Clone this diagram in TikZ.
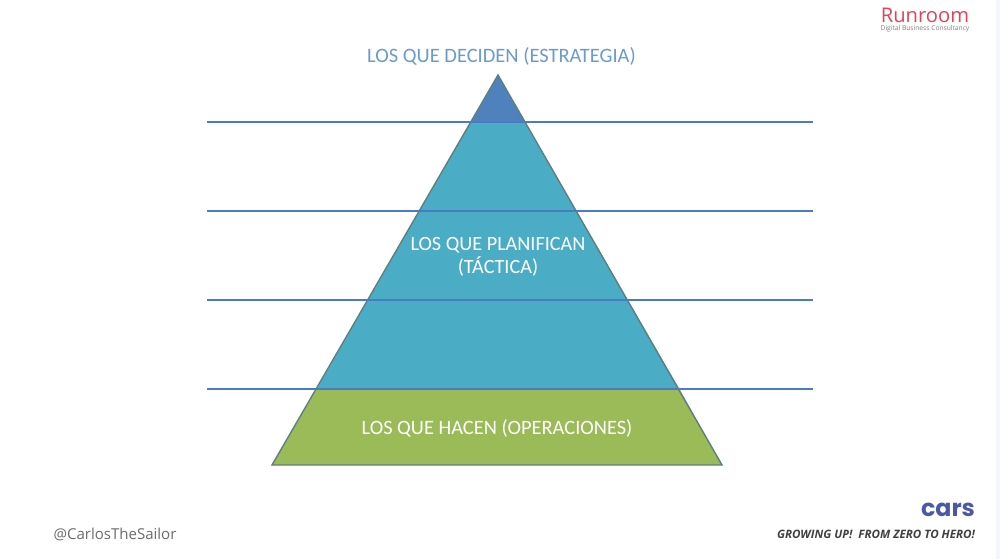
\documentclass[tikz,border=0pt]{standalone}
\usepackage{fontspec}
\setmainfont{Carlito}
\newfontfamily\logofont{Poppins}
\newfontfamily\labelfont{Open Sans}
\definecolor{topColor}{HTML}{4F81BD}
\definecolor{midColor}{HTML}{4BACC6}
\definecolor{baseColor}{HTML}{9BBB59}
\definecolor{edgeColor}{HTML}{5F7F7F}
\definecolor{lineColor}{HTML}{4A7CC4}
\definecolor{titleColor}{HTML}{6A9BD0}
\definecolor{runColor}{HTML}{E0435A}
\definecolor{carsColor}{HTML}{4A58A8}

\begin{document}
\begin{tikzpicture}[x=.02cm,y=-.02cm,every node/.style={inner sep=0pt}]
\useasboundingbox (0,0) rectangle (1000,559);
\fill[white] (0,0) rectangle (1000,559);
\fill[blue!4] (996,0) rectangle (1000,559);
% corners of the pyramid
\coordinate (apex) at (498,75);
\coordinate (baseL) at (272,465);
\coordinate (baseR) at (722,465);
\coordinate (topL) at (471,122);
\coordinate (topR) at (525,122);
\coordinate (midL) at (316,390);
\coordinate (midR) at (680,390);
\fill[midColor] (topL) -- (topR) -- (midR) -- (midL) -- cycle;
\fill[topColor] (apex) -- (topR) -- (topL) -- cycle;
\fill[baseColor] (midL) -- (midR) -- (baseR) -- (baseL) -- cycle;
\draw[edgeColor,thick] (apex) -- (baseR) -- (baseL) -- cycle;
\foreach \y/\name in {122/a,211/b,300/c,389/d} {
\coordinate (left\name) at (207,\y);
\coordinate (right\name) at (813,\y);
\draw[lineColor,thick] (left\name) -- (right\name);
}
\node[titleColor,font=\fontsize{11.65}{13}\selectfont] (decide) at (501.5,56) {LOS QUE DECIDEN (ESTRATEGIA)};
\node[white,align=center,font=\fontsize{11.5}{13.4}\selectfont] (plan) at (498,257) {LOS QUE PLANIFICAN\\(TÁCTICA)};
\node[white,font=\fontsize{11.6}{13}\selectfont] (make) at (497,428) {LOS QUE HACEN (OPERACIONES)};
\node[gray!85!black,font=\labelfont\fontsize{8.55}{10}\selectfont] (sailor) at (115,534) {@CarlosTheSailor};
\node[runColor,font=\labelfont\fontsize{11.5}{13}\selectfont] (runroom) at (925,15) {Runroom};
\node[gray,font=\labelfont\fontsize{3.8}{4}\selectfont] (digital) at (925,28.5) {Digital Business Consultancy};
\node[carsColor,font=\logofont\bfseries\fontsize{13.5}{15}\selectfont] (cars) at (948,510) {cars};
\node[black!75,font=\labelfont\bfseries\itshape\fontsize{6.6}{8}\selectfont] (motto) at (876,534) {GROWING UP!~~FROM ZERO TO HERO!};
\end{tikzpicture}
\end{document}
